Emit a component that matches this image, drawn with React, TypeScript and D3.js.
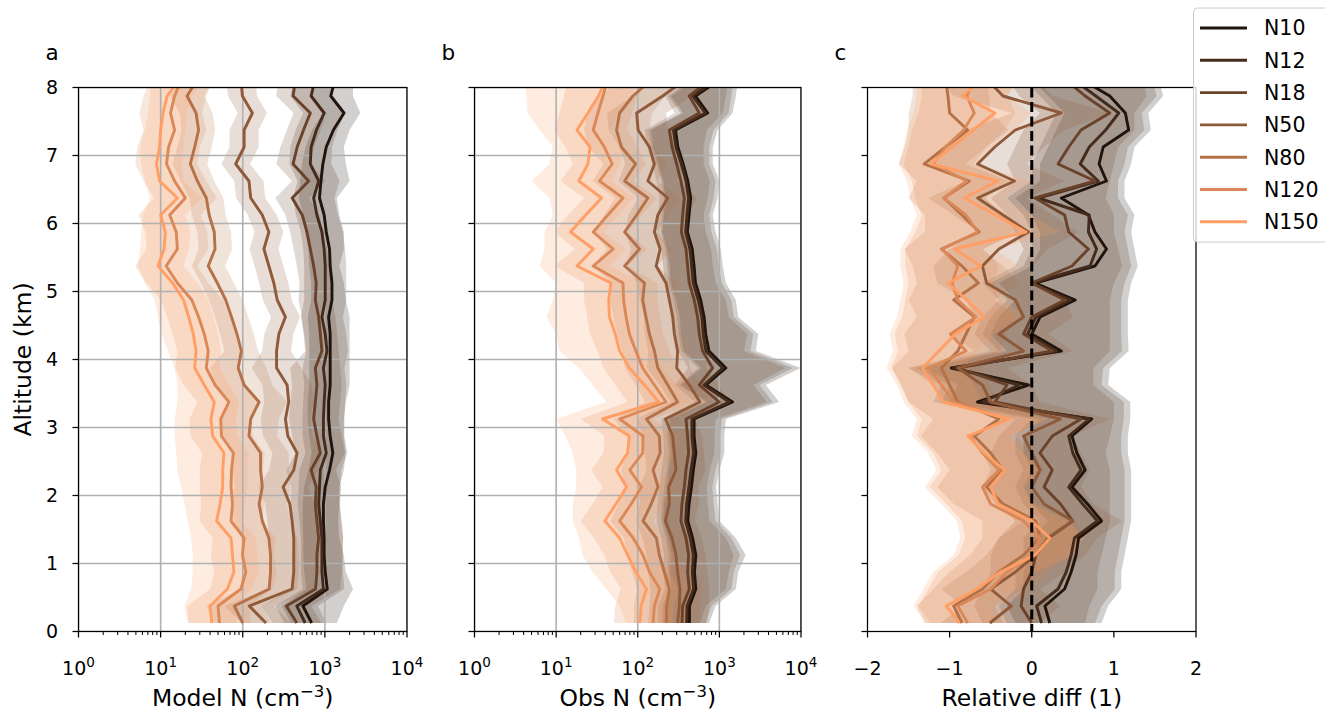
import React from "react";
import * as d3 from "d3";

// ---------------- DATA ----------------
const ALTITUDE_KM = [8.125, 7.875, 7.625, 7.375, 7.125, 6.875, 6.625, 6.375, 6.125, 5.875, 5.625, 5.375, 5.125, 4.875, 4.625, 4.375, 4.125,
  3.875, 3.625, 3.375, 3.125, 2.875, 2.625, 2.375, 2.125, 1.875, 1.625, 1.375, 1.125, 0.875, 0.625, 0.375, 0.125];

const SERIES_NAMES = ["N10", "N12", "N18", "N50", "N80", "N120", "N150"];
const SERIES_COLORS = ["#20140d", "#452b1b", "#6a422a", "#8f5a39", "#b57148", "#da8857", "#ff9f65"];

const ALT_TICKS = [0, 1, 2, 3, 4, 5, 6, 7, 8];
const LOG_TICKS = [1, 10, 100, 1000, 10000];
const LOG_TICK_EXPONENTS = ["0", "1", "2", "3", "4"];
const DIFF_TICKS = [-2, -1, 0, 1, 2];
const DIFF_TICK_LABELS = ["\u22122", "\u22121", "0", "1", "2"];

// Panel a: Model N (cm-3) — median, lower, upper
const modelN10 = [1330, 1180, 1710, 1270, 1040, 945, 895, 860, 980, 1040, 1140, 1160, 1220, 1220, 1110, 1160, 1160, 1160, 1160, 1110, 1110, 1160, 1250, 1140, 1010, 960, 960, 980, 980, 1010, 1070, 540, 690];
const modelN10Lo = [740, 650, 950, 700, 580, 525, 500, 480, 545, 580, 630, 645, 680, 680, 620, 645, 645, 645, 645, 620, 620, 645, 690, 630, 560, 535, 535, 545, 545, 560, 595, 300, 385];
const modelN10Hi = [2200, 2200, 2700, 2000, 1700, 1800, 2000, 1400, 1500, 1700, 1700, 1500, 1700, 1800, 2000, 2000, 2000, 2000, 2000, 1800, 1700, 1700, 1800, 1700, 1500, 1500, 1450, 1500, 1700, 1800, 2200, 1700, 1400];
const modelN12 = [760, 680, 980, 790, 680, 665, 840, 730, 800, 920, 980, 1010, 1010, 1010, 920, 1010, 1060, 960, 1010, 980, 960, 960, 1040, 880, 860, 840, 880, 920, 920, 920, 960, 455, 575];
const modelN12Lo = [420, 380, 545, 440, 380, 370, 465, 405, 445, 510, 545, 560, 560, 560, 510, 560, 590, 535, 560, 545, 535, 535, 580, 490, 480, 465, 490, 510, 510, 510, 535, 250, 320];
const modelN12Hi = [1370, 1220, 1760, 1420, 1220, 1200, 1510, 1310, 1440, 1660, 1760, 1820, 1820, 1820, 1660, 1820, 1910, 1730, 1820, 1760, 1730, 1730, 1870, 1580, 1550, 1510, 1580, 1660, 1660, 1660, 1730, 820, 1040];
const modelN18 = [440, 410, 665, 550, 460, 410, 635, 400, 530, 605, 665, 730, 785, 765, 840, 880, 920, 765, 800, 765, 730, 800, 880, 680, 785, 765, 800, 840, 800, 800, 770, 340, 455];
const modelN18Lo = [275, 256, 416, 344, 288, 256, 397, 250, 331, 378, 416, 456, 491, 478, 525, 550, 575, 380, 400, 380, 365, 400, 440, 340, 390, 380, 400, 420, 400, 400, 385, 170, 230];
const modelN18Hi = [704, 656, 1064, 880, 736, 656, 1016, 640, 848, 968, 1064, 1168, 1256, 1224, 1344, 1408, 1472, 1530, 1600, 1530, 1460, 1600, 1760, 1360, 1570, 1530, 1600, 1680, 1600, 1600, 1540, 680, 910];
const modelN50 = [95, 99, 131, 104, 104, 82, 119, 125, 173, 208, 181, 208, 239, 263, 331, 275, 258, 258, 347, 363, 331, 354, 459, 418, 310, 374, 399, 418, 418, 418, 399, 120, 192];
const modelN50Lo = [63, 66, 87, 69, 69, 55, 79, 83, 115, 139, 121, 139, 159, 175, 221, 183, 172, 129, 174, 182, 165, 177, 230, 209, 155, 187, 200, 209, 209, 209, 200, 60, 96];
const modelN50Hi = [143, 149, 197, 156, 156, 123, 179, 188, 260, 312, 272, 312, 359, 395, 497, 413, 387, 516, 694, 726, 662, 708, 918, 836, 620, 748, 798, 836, 836, 836, 798, 240, 384];
const modelN80 = [28, 21, 27, 29, 26, 23, 28, 36, 39, 45, 46, 38, 49, 62, 73, 85, 96, 88, 104, 158, 125, 119, 165, 165, 173, 158, 173, 208, 218, 218, 210, 79, 100];
const modelN80Lo = [17.5, 13, 17, 18, 16, 14, 17.5, 22.5, 24, 28, 29, 24, 31, 39, 46, 53, 60, 40, 47, 72, 57, 54, 75, 75, 79, 72, 79, 95, 99, 99, 95, 36, 45];
const modelN80Hi = [45, 34, 43, 46, 42, 37, 45, 58, 62, 72, 74, 61, 78, 99, 117, 136, 154, 194, 229, 348, 275, 262, 363, 363, 381, 348, 381, 458, 480, 480, 462, 174, 220];
const modelN120 = [18, 14.8, 13.2, 14.8, 12.5, 11.8, 14.8, 20, 12.9, 15.5, 16, 11.7, 16, 24, 29, 34, 38, 36, 46, 68, 54, 55, 77, 73, 72, 75, 72, 104, 99, 109, 95, 50, 52];
const modelN120Lo = [7.5, 6.2, 5.5, 6.2, 5.2, 4.9, 6.2, 8.3, 5.4, 6.5, 6.7, 4.9, 6.7, 10, 12, 14, 16, 15, 19, 28, 22.5, 23, 32, 30, 30, 31, 30, 43, 41, 45, 40, 21, 22];
const modelN120Hi = [43, 36, 32, 36, 30, 28, 36, 48, 31, 37, 38, 28, 38, 58, 70, 82, 91, 86, 110, 163, 130, 132, 185, 175, 173, 180, 173, 250, 238, 262, 228, 120, 125];
const modelN150 = [17, 12, 10.7, 10, 9.7, 8.9, 9.7, 16, 10, 11.4, 11, 9.3, 14, 19, 22, 25, 27, 26, 34, 45, 41, 43, 59, 57, 57, 53, 48, 72, 75, 78, 65, 40, 42];
const modelN150Lo = [7.5, 7.4, 7.0, 6.4, 5.6, 5.8, 6.4, 7.4, 6.1, 5.8, 5.6, 5.3, 6.4, 8.4, 9.3, 10.2, 12.3, 14.8, 16, 16, 14.8, 14.8, 15.5, 16, 17.8, 19.5, 21.4, 23.5, 24.6, 24.6, 23.5, 19.5, 21.4];
const modelN150Hi = [34, 24, 21, 20, 19, 18, 19, 32, 20, 23, 22, 19, 28, 38, 44, 50, 54, 52, 68, 90, 82, 86, 118, 114, 114, 106, 96, 144, 150, 156, 130, 80, 84];

// Panel b: Obs N (cm-3)
const obsN10 = [1040, 510, 720, 290, 310, 360, 410, 445, 425, 405, 465, 490, 510, 590, 650, 680, 745, 1200, 685, 1450, 490, 490, 515, 480, 455, 425, 410, 470, 515, 495, 515, 430, 430];
const obsN10Lo = [520, 255, 360, 145, 155, 180, 205, 220, 210, 200, 230, 245, 255, 295, 325, 340, 370, 600, 340, 720, 245, 245, 260, 240, 230, 210, 205, 235, 260, 250, 260, 215, 215];
const obsN10Hi = [1700, 1590, 1450, 950, 830, 830, 1000, 950, 830, 900, 1040, 1100, 1200, 1590, 1700, 3000, 2800, 9900, 3700, 5400, 1200, 1150, 1150, 1000, 910, 950, 1000, 1590, 2100, 1700, 1590, 900, 750];
const obsN12 = [950, 470, 670, 273, 294, 342, 390, 420, 401, 386, 436, 457, 479, 551, 611, 634, 684, 1094, 647, 1319, 461, 461, 483, 449, 424, 397, 386, 440, 479, 466, 483, 401, 397];
const obsN12Lo = [475, 235, 335, 135, 147, 171, 195, 210, 200, 193, 218, 228, 240, 275, 305, 317, 342, 547, 323, 660, 230, 230, 241, 225, 212, 198, 193, 220, 240, 233, 241, 200, 198];
const obsN12Hi = [1500, 1400, 1300, 850, 750, 750, 900, 850, 750, 800, 930, 980, 1070, 1400, 1500, 2600, 2400, 8000, 3100, 4500, 1070, 1030, 1030, 900, 820, 850, 900, 1400, 1800, 1500, 1400, 800, 680];
const obsN18 = [787, 428, 567, 244, 263, 300, 338, 372, 355, 342, 390, 408, 428, 492, 541, 567, 623, 826, 567, 995, 390, 408, 420, 390, 372, 348, 338, 390, 420, 408, 428, 355, 348];
const obsN18Lo = [395, 215, 285, 122, 132, 150, 170, 185, 178, 170, 195, 205, 215, 245, 270, 285, 310, 415, 285, 500, 195, 205, 210, 195, 185, 175, 170, 195, 210, 205, 215, 178, 175];
const obsN18Hi = [1300, 1200, 1100, 700, 640, 640, 760, 720, 640, 680, 790, 830, 900, 1200, 1300, 2200, 2000, 6500, 2600, 3800, 900, 870, 870, 760, 700, 720, 760, 1200, 1500, 1300, 1200, 680, 580];
const obsN50 = [390, 202, 97, 101, 139, 160, 133, 233, 176, 160, 188, 168, 222, 244, 268, 281, 308, 300, 428, 578, 218, 268, 281, 294, 239, 244, 218, 263, 294, 308, 329, 323, 308];
const obsN50Lo = [170, 88, 42, 44, 60, 70, 58, 101, 77, 70, 82, 73, 97, 106, 117, 122, 134, 130, 186, 251, 95, 117, 122, 128, 104, 106, 95, 114, 128, 134, 143, 140, 134];
const obsN50Hi = [900, 465, 223, 232, 320, 368, 306, 536, 405, 368, 432, 386, 511, 561, 616, 646, 708, 690, 984, 1330, 501, 616, 646, 676, 550, 561, 501, 605, 676, 708, 757, 743, 708];
const obsN80 = [152, 87, 60, 55, 63, 94, 69, 133, 97, 69, 105, 69, 121, 115, 126, 139, 160, 176, 233, 308, 128, 184, 188, 154, 177, 146, 116, 169, 184, 212, 244, 226, 224];
const obsN80Lo = [61, 35, 24, 22, 25, 38, 28, 53, 39, 28, 42, 28, 48, 46, 50, 56, 64, 70, 93, 123, 51, 74, 75, 62, 71, 58, 46, 68, 74, 85, 98, 90, 90];
const obsN80Hi = [380, 218, 150, 138, 158, 235, 173, 333, 243, 173, 263, 173, 303, 288, 315, 348, 400, 440, 583, 770, 320, 460, 470, 385, 443, 365, 290, 423, 460, 530, 610, 565, 560];
const obsN120 = [43, 37.5, 32.5, 28.5, 39, 48.6, 34, 66, 43, 28.5, 50, 28.5, 66, 67, 72, 79, 95, 115, 160, 222, 60, 116, 115, 80, 111, 83, 60, 88, 116, 139, 186, 160, 154];
const obsN120Lo = [14, 12.5, 11, 9.5, 13, 16, 11.3, 22, 14, 9.5, 17, 9.5, 22, 22, 24, 26, 32, 38, 53, 74, 20, 39, 38, 27, 37, 28, 20, 29, 39, 46, 62, 53, 51];
const obsN120Hi = [112, 98, 85, 74, 101, 126, 88, 172, 112, 74, 130, 74, 172, 174, 187, 205, 247, 299, 416, 577, 156, 302, 299, 208, 289, 216, 156, 229, 302, 361, 484, 416, 400];
const obsN150 = [41, 33, 24.5, 18, 26, 24.5, 19, 36, 23, 15, 28.5, 18, 47, 44, 45, 53, 60, 79, 121, 181, 37, 79, 75, 55, 73, 54, 39.5, 60, 75, 95, 128, 110, 106];
const obsN150Lo = [4.3, 4.3, 4.5, 6.3, 9.1, 8.3, 5.0, 8.3, 9.1, 7.2, 7.2, 6.3, 10, 9.1, 7.6, 10, 11, 19, 28, 41, 10, 13, 16, 17.6, 17.6, 16, 16, 19, 21, 28, 41, 60, 72];
const obsN150Hi = [103, 83, 61, 45, 65, 61, 48, 90, 58, 38, 71, 45, 118, 110, 113, 133, 150, 198, 303, 453, 93, 198, 188, 138, 183, 135, 99, 150, 188, 238, 320, 275, 265];

// Panel c: Relative diff (1)
const diffN10 = [0.6, 0.95, 1.14, 1.18, 0.87, 0.82, 0.91, 0.36, 0.69, 0.77, 0.91, 0.77, 0.04, 0.53, 0.1, 0.0, 0.36, -0.98, -0.04, -0.66, 0.73, 0.49, 0.55, 0.65, 0.49, 0.68, 0.85, 0.57, 0.54, 0.48, 0.4, 0.16, 0.22];
const diffN10Lo = [0.0, 0.2, 0.4, 0.3, 0.2, 0.1, 0.1, -0.2, 0.0, 0.1, 0.1, 0.0, -0.4, -0.2, -0.4, -0.5, -0.3, -1.3, -0.9, -1.0, 0.1, -0.1, -0.1, 0.0, -0.1, 0.0, 0.2, 0.0, 0.0, -0.1, -0.1, -0.3, -0.2];
const diffN10Hi = [1.55, 1.6, 1.42, 1.45, 1.25, 1.21, 1.13, 1.13, 1.25, 1.21, 1.25, 1.29, 1.21, 1.17, 1.17, 1.17, 1.18, 0.95, 0.93, 1.2, 1.2, 1.17, 1.17, 1.21, 1.21, 1.21, 1.21, 1.17, 1.13, 1.09, 1.09, 0.93, 0.85];
const diffN12 = [0.5, 0.78, 1.06, 0.9, 0.7, 0.59, 0.81, 0.08, 0.7, 0.69, 0.79, 0.71, 0.0, 0.47, 0.05, -0.05, 0.3, -0.95, -0.15, -0.6, 0.7, 0.45, 0.5, 0.6, 0.45, 0.62, 0.8, 0.52, 0.48, 0.42, 0.32, 0.06, 0.12];
const diffN12Lo = [-0.1, 0.1, 0.3, 0.2, 0.1, 0.0, 0.0, -0.3, -0.1, 0.0, 0.0, -0.1, -0.5, -0.3, -0.5, -0.6, -0.4, -1.4, -1.0, -1.1, 0.0, -0.2, -0.2, -0.1, -0.2, -0.1, 0.1, -0.1, -0.1, -0.2, -0.2, -0.4, -0.3];
const diffN12Hi = [1.47, 1.52, 1.34, 1.37, 1.17, 1.13, 1.05, 1.05, 1.17, 1.13, 1.17, 1.21, 1.13, 1.09, 1.09, 1.09, 1.1, 0.87, 0.85, 1.12, 1.12, 1.09, 1.09, 1.13, 1.13, 1.13, 1.13, 1.09, 1.05, 1.01, 1.01, 0.85, 0.77];
const diffN18 = [0.4, 0.65, 0.95, 0.6, 0.45, 0.32, 0.77, 0.04, 0.4, 0.45, 0.69, 0.49, 0.0, 0.4, 0.0, -0.1, 0.25, -0.9, -0.3, -0.45, 0.6, 0.25, 0.1, 0.25, 0.15, 0.35, 0.5, 0.2, 0.05, 0.0, -0.1, -0.13, 0.0];
const diffN18Lo = [-0.3, -0.15, 0.1, -0.1, -0.2, -0.3, -0.2, -0.5, -0.3, -0.2, -0.1, -0.2, -0.6, -0.4, -0.6, -0.7, -0.5, -1.5, -1.1, -1.2, -0.2, -0.4, -0.5, -0.4, -0.5, -0.4, -0.2, -0.4, -0.5, -0.5, -0.6, -0.7, -0.6];
const diffN18Hi = [1.35, 1.4, 1.25, 1.25, 1.05, 1.0, 0.95, 0.9, 1.0, 1.0, 1.05, 1.1, 1.0, 0.95, 0.95, 0.95, 0.95, 0.75, 0.75, 1.0, 1.0, 0.95, 0.9, 0.95, 0.95, 0.95, 0.95, 0.9, 0.85, 0.8, 0.8, 0.7, 0.65];
const diffN50 = [-0.55, -0.35, 0.36, -0.2, -0.45, -0.66, -0.21, -0.66, -0.35, -0.04, -0.4, -0.6, -0.55, -0.2, -0.1, -0.4, -0.1, -0.9, -0.6, -0.5, 0.35, -0.1, 0.0, 0.1, 0.0, 0.15, 0.5, 0.2, 0.05, -0.2, -0.5, -0.25, -0.51];
const diffN50Lo = [-1.15, -0.95, -0.24, -0.8, -1.05, -1.26, -0.81, -1.26, -0.95, -0.64, -1.0, -1.2, -1.15, -0.8, -0.7, -1.0, -0.7, -1.5, -1.2, -1.1, -0.25, -0.7, -0.6, -0.5, -0.6, -0.45, -0.1, -0.4, -0.55, -0.8, -1.1, -0.85, -1.11];
const diffN50Hi = [0.05, 0.25, 0.96, 0.4, 0.15, -0.06, 0.39, -0.06, 0.25, 0.56, 0.2, 0.0, 0.05, 0.4, 0.5, 0.2, 0.5, -0.3, 0.0, 0.1, 0.95, 0.5, 0.6, 0.7, 0.6, 0.75, 1.1, 0.8, 0.65, 0.4, 0.1, 0.35, 0.09];
const diffN80 = [-1.05, -1.02, -1.0, -0.78, -1.05, -1.31, -0.76, -1.07, -0.85, -0.64, -1.1, -0.85, -0.65, -0.95, -0.7, -0.8, -0.9, -1.1, -1.0, -0.9, -0.4, -0.7, -0.5, -0.35, -0.55, -0.35, 0.05, 0.1, -0.1, -0.4, -0.6, -0.95, -0.85];
const diffN80Lo = [-1.45, -1.45, -1.5, -1.5, -1.55, -1.62, -1.4, -1.5, -1.3, -1.3, -1.55, -1.45, -1.4, -1.5, -1.4, -1.55, -1.5, -1.7, -1.6, -1.5, -1.2, -1.35, -1.15, -1.0, -1.15, -0.95, -0.6, -0.6, -0.75, -1.0, -1.2, -1.4, -1.3];
const diffN80Hi = [-0.55, -0.52, -0.5, -0.28, -0.55, -0.81, -0.26, -0.57, -0.35, -0.14, -0.6, -0.35, -0.15, -0.45, -0.2, -0.3, -0.4, -0.6, -0.5, -0.4, 0.1, -0.2, 0.0, 0.15, -0.05, 0.15, 0.55, 0.6, 0.4, 0.1, -0.1, -0.45, -0.35];
const diffN120 = [-0.7, -0.79, -0.7, -0.83, -1.05, -1.2, -0.79, -1.07, -0.8, -0.66, -1.09, -0.9, -0.97, -0.9, -0.68, -0.99, -0.8, -1.25, -1.1, -0.95, -0.3, -0.75, -0.6, -0.4, -0.6, -0.5, -0.1, 0.1, 0.0, -0.3, -0.5, -0.9, -0.78];
const diffN120Lo = [-1.34, -1.34, -1.38, -1.46, -1.5, -1.56, -1.46, -1.42, -1.34, -1.42, -1.54, -1.54, -1.5, -1.54, -1.58, -1.67, -1.63, -1.71, -1.58, -1.5, -1.34, -1.4, -1.2, -1.1, -1.24, -1.04, -0.85, -0.81, -0.89, -1.14, -1.26, -1.38, -1.24];
const diffN120Hi = [-0.2, -0.29, -0.2, -0.33, -0.55, -0.7, -0.29, -0.57, -0.3, -0.16, -0.59, -0.4, -0.47, -0.4, -0.18, -0.49, -0.3, -0.75, -0.6, -0.45, 0.2, -0.25, -0.1, 0.1, -0.1, 0.0, 0.4, 0.6, 0.5, 0.2, 0.0, -0.4, -0.28];
const diffN150 = [-0.62, -0.84, -0.45, -0.71, -0.97, -1.23, -0.41, -0.82, -0.44, -0.07, -0.94, -0.62, -1.02, -0.79, -0.58, -0.93, -1.13, -1.33, -1.2, -1.07, -0.27, -0.78, -0.58, -0.33, -0.5, -0.41, 0.0, 0.22, 0.04, -0.38, -0.67, -1.04, -0.88];
const diffN150Lo = [-1.4, -1.4, -1.44, -1.52, -1.56, -1.62, -1.52, -1.48, -1.4, -1.48, -1.6, -1.6, -1.56, -1.6, -1.64, -1.73, -1.69, -1.77, -1.64, -1.56, -1.4, -1.46, -1.26, -1.16, -1.3, -1.1, -0.91, -0.87, -0.95, -1.2, -1.32, -1.44, -1.3];
const diffN150Hi = [-0.15, -0.3, 0.0, -0.2, -0.45, -0.7, 0.0, -0.35, 0.0, 0.35, -0.45, -0.15, -0.5, -0.3, -0.1, -0.45, -0.65, -0.85, -0.7, -0.6, 0.2, -0.3, -0.1, 0.1, -0.05, 0.05, 0.45, 0.65, 0.5, 0.05, -0.2, -0.55, -0.4];

// ---------------- LAYOUT ----------------
const W = 1325;
const H = 714;
const FONT = "'DejaVu Sans', sans-serif";
const PLOT_TOP = 87.5;
const PLOT_BOTTOM = 631.5;
const TICK_FS = 19;
const LABEL_FS = 23.5;
const LEGEND_FS = 20.5;

const yScale = d3.scaleLinear().domain([0, 8]).range([PLOT_BOTTOM, PLOT_TOP]);

type PanelDef = {
  id: string;
  letter: string;
  x0: number;
  x1: number;
  log: boolean;
  med: number[][];
  lo: number[][];
  hi: number[][];
  grid: boolean;
  yLabels: boolean;
  xlabel: "model" | "obs" | "diff";
};

const PANELS: PanelDef[] = [
  {
    id: "a", letter: "a", x0: 78.5, x1: 407, log: true, grid: true, yLabels: true, xlabel: "model",
    med: [modelN10, modelN12, modelN18, modelN50, modelN80, modelN120, modelN150],
    lo: [modelN10Lo, modelN12Lo, modelN18Lo, modelN50Lo, modelN80Lo, modelN120Lo, modelN150Lo],
    hi: [modelN10Hi, modelN12Hi, modelN18Hi, modelN50Hi, modelN80Hi, modelN120Hi, modelN150Hi],
  },
  {
    id: "b", letter: "b", x0: 474.5, x1: 801, log: true, grid: true, yLabels: false, xlabel: "obs",
    med: [obsN10, obsN12, obsN18, obsN50, obsN80, obsN120, obsN150],
    lo: [obsN10Lo, obsN12Lo, obsN18Lo, obsN50Lo, obsN80Lo, obsN120Lo, obsN150Lo],
    hi: [obsN10Hi, obsN12Hi, obsN18Hi, obsN50Hi, obsN80Hi, obsN120Hi, obsN150Hi],
  },
  {
    id: "c", letter: "c", x0: 867.5, x1: 1196, log: false, grid: false, yLabels: false, xlabel: "diff",
    med: [diffN10, diffN12, diffN18, diffN50, diffN80, diffN120, diffN150],
    lo: [diffN10Lo, diffN12Lo, diffN18Lo, diffN50Lo, diffN80Lo, diffN120Lo, diffN150Lo],
    hi: [diffN10Hi, diffN12Hi, diffN18Hi, diffN50Hi, diffN80Hi, diffN120Hi, diffN150Hi],
  },
];

function Panel({ p }: { p: PanelDef }) {
  const x: any = p.log
    ? d3.scaleLog().domain([1, 1e4]).range([p.x0, p.x1])
    : d3.scaleLinear().domain([-2, 2]).range([p.x0, p.x1]);
  const clipId = `clip-${p.id}`;
  const area = d3.area<number>().y((_, i) => yScale(ALTITUDE_KM[i]));
  const line = d3.line<number>().y((_, i) => yScale(ALTITUDE_KM[i]));

  const majorX = p.log ? LOG_TICKS : DIFF_TICKS;
  const minorX: number[] = [];
  if (p.log) {
    for (let k = 0; k < 4; k++) for (let m = 2; m <= 9; m++) minorX.push(m * Math.pow(10, k));
  }
  const cx = (p.x0 + p.x1) / 2;
  const labelY = 706;

  return (
    <g>
      <defs>
        <clipPath id={clipId}>
          <rect x={p.x0} y={PLOT_TOP} width={p.x1 - p.x0} height={PLOT_BOTTOM - PLOT_TOP} />
        </clipPath>
      </defs>
      <g clipPath={`url(#${clipId})`}>
        {p.med.map((m, s) => {
          const lo = p.lo[s];
          const hi = p.hi[s];
          const gen = area.x0((_, i) => x(lo[i])).x1((_, i) => x(hi[i]));
          return <path key={"band" + s} d={gen(m) || ""} fill={SERIES_COLORS[s]} fillOpacity={0.2} stroke="none" />;
        })}
        {p.grid &&
          majorX.map((t) => (
            <line key={"gx" + t} x1={x(t)} x2={x(t)} y1={PLOT_TOP} y2={PLOT_BOTTOM} stroke="#b0b0b0" strokeWidth={1.6} />
          ))}
        {p.grid &&
          ALT_TICKS.map((t) => (
            <line key={"gy" + t} x1={p.x0} x2={p.x1} y1={yScale(t)} y2={yScale(t)} stroke="#b0b0b0" strokeWidth={1.6} />
          ))}
        {p.med.map((m, s) => {
          const gen = line.x((d) => x(d));
          return (
            <path key={"line" + s} d={gen(m) || ""} fill="none" stroke={SERIES_COLORS[s]} strokeWidth={2.9} strokeLinejoin="round" />
          );
        })}
        {!p.log && (
          <line x1={x(0)} x2={x(0)} y1={PLOT_TOP} y2={PLOT_BOTTOM} stroke="#000" strokeWidth={3} strokeDasharray="10 4.5" />
        )}
      </g>
      <rect x={p.x0} y={PLOT_TOP} width={p.x1 - p.x0} height={PLOT_BOTTOM - PLOT_TOP} fill="none" stroke="#000" strokeWidth={1.25} />
      {ALT_TICKS.map((t) => (
        <g key={"yt" + t}>
          <line x1={p.x0 - 6} x2={p.x0} y1={yScale(t)} y2={yScale(t)} stroke="#000" strokeWidth={1.25} />
          {p.yLabels && (
            <text x={58} y={yScale(t) + 6.8} textAnchor="end" fontSize={TICK_FS} fontFamily={FONT} fill="#000">
              {t}
            </text>
          )}
        </g>
      ))}
      {minorX.map((t) => (
        <line key={"mx" + t} x1={x(t)} x2={x(t)} y1={PLOT_BOTTOM} y2={PLOT_BOTTOM + 3.5} stroke="#000" strokeWidth={1} />
      ))}
      {majorX.map((t, i) => (
        <g key={"xt" + t}>
          <line x1={x(t)} x2={x(t)} y1={PLOT_BOTTOM} y2={PLOT_BOTTOM + 6} stroke="#000" strokeWidth={1.25} />
          {p.log ? (
            <text x={x(t)} y={675} textAnchor="middle" fontSize={TICK_FS} fontFamily={FONT} fill="#000">
              10
              <tspan dy={-8} fontSize={13.5}>
                {LOG_TICK_EXPONENTS[i]}
              </tspan>
            </text>
          ) : (
            <text x={x(t)} y={675} textAnchor="middle" fontSize={TICK_FS} fontFamily={FONT} fill="#000">
              {DIFF_TICK_LABELS[i]}
            </text>
          )}
        </g>
      ))}
      <text x={cx} y={labelY} textAnchor="middle" fontSize={LABEL_FS} fontFamily={FONT} fill="#000">
        {p.xlabel === "model" ? (
          <>
            Model N (cm
            <tspan dy={-9} fontSize={16.5}>
              {"\u22123"}
            </tspan>
            <tspan dy={9}>)</tspan>
          </>
        ) : p.xlabel === "obs" ? (
          <>
            Obs N (cm
            <tspan dy={-9} fontSize={16.5}>
              {"\u22123"}
            </tspan>
            <tspan dy={9}>)</tspan>
          </>
        ) : (
          "Relative diff (1)"
        )}
      </text>
      <text x={p.x0 - 33} y={60} fontSize={21.5} fontFamily={FONT} fill="#000">
        {p.letter}
      </text>
    </g>
  );
}

function Legend() {
  const x0 = 1193.5;
  const top = 8;
  const rowY = (i: number) => 28 + i * 32.3;
  return (
    <g>
      <rect x={x0} y={top} width={150} height={234} rx={4} ry={4} fill="#fff" fillOpacity={0.8} stroke="#cccccc" strokeWidth={1} />
      {SERIES_NAMES.map((n, i) => (
        <g key={n}>
          <line x1={1200} x2={1247} y1={rowY(i)} y2={rowY(i)} stroke={SERIES_COLORS[i]} strokeWidth={2.9} />
          <text x={1264} y={rowY(i) + 7.3} fontSize={LEGEND_FS} fontFamily={FONT} fill="#000">
            {n}
          </text>
        </g>
      ))}
    </g>
  );
}

export default function App() {
  return (
    <svg
      width={W}
      height={H}
      viewBox={`0 0 ${W} ${H}`}
      style={{ position: "absolute", left: 0, top: 0, background: "#fff" }}
      xmlns="http://www.w3.org/2000/svg"
    >
      <rect x={0} y={0} width={W} height={H} fill="#fff" />
      {PANELS.map((p) => (
        <Panel key={p.id} p={p} />
      ))}
      <text
        transform={`translate(31, ${(PLOT_TOP + PLOT_BOTTOM) / 2}) rotate(-90)`}
        textAnchor="middle"
        fontSize={LABEL_FS}
        fontFamily={FONT}
        fill="#000"
      >
        Altitude (km)
      </text>
      <Legend />
    </svg>
  );
}
